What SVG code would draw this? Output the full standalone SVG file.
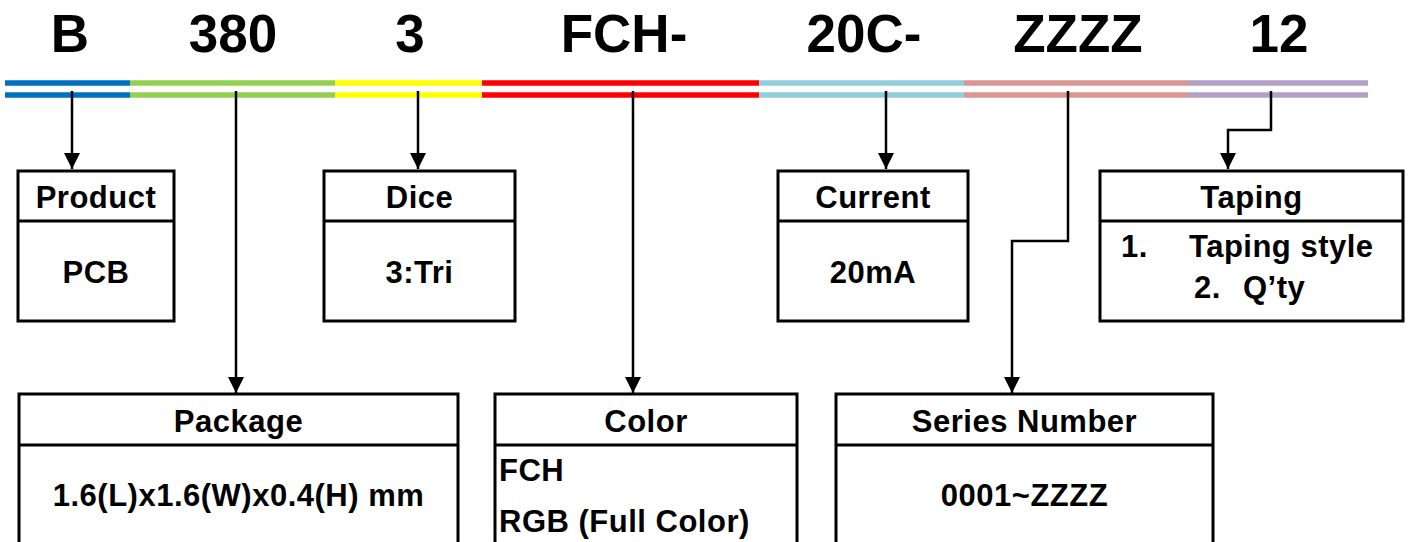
<svg xmlns="http://www.w3.org/2000/svg" width="1408" height="542" viewBox="0 0 1408 542">
<style>
.code{font-family:"Liberation Sans",Arial,sans-serif;font-weight:bold;font-size:53px;fill:#000;text-anchor:middle}
.t{font-family:"Liberation Sans",Arial,sans-serif;font-weight:bold;font-size:31px;letter-spacing:0.5px;fill:#000;text-anchor:middle}
.l{text-anchor:start}
.box{fill:#fff;stroke:#000;stroke-width:3}
.div{stroke:#000;stroke-width:3}
.bar{stroke-width:5.5;fill:none}
.c{fill:none;stroke:#000;stroke-width:2.5}
</style>
<defs>
<marker id="arr" markerWidth="16" markerHeight="16" refX="16" refY="8" orient="auto" markerUnits="userSpaceOnUse" viewBox="0 0 16 16">
<path d="M0,0 L16,8 L0,16 Z" fill="#000"/>
</marker>
</defs>
<g id="code">
<text class="code" x="70" y="52">B</text>
<text class="code" x="233" y="52">380</text>
<text class="code" x="410" y="52">3</text>
<text class="code" x="624" y="52">FCH-</text>
<text class="code" x="864" y="52">20C-</text>
<text class="code" x="1078" y="52">ZZZZ</text>
<text class="code" x="1279" y="52">12</text>
</g>
<g id="bars">
<line class="bar" x1="5" y1="83" x2="130" y2="83" stroke="#0070C0"/>
<line class="bar" x1="5" y1="95" x2="130" y2="95" stroke="#0070C0"/>
<line class="bar" x1="130" y1="83" x2="335" y2="83" stroke="#92D050"/>
<line class="bar" x1="130" y1="95" x2="335" y2="95" stroke="#92D050"/>
<line class="bar" x1="335" y1="83" x2="482" y2="83" stroke="#FFFF00"/>
<line class="bar" x1="335" y1="95" x2="482" y2="95" stroke="#FFFF00"/>
<line class="bar" x1="482" y1="83" x2="759" y2="83" stroke="#FF0000"/>
<line class="bar" x1="482" y1="95" x2="759" y2="95" stroke="#FF0000"/>
<line class="bar" x1="759" y1="83" x2="964" y2="83" stroke="#92CDDC"/>
<line class="bar" x1="759" y1="95" x2="964" y2="95" stroke="#92CDDC"/>
<line class="bar" x1="964" y1="83" x2="1188" y2="83" stroke="#DA9694"/>
<line class="bar" x1="964" y1="95" x2="1188" y2="95" stroke="#DA9694"/>
<line class="bar" x1="1188" y1="83" x2="1368" y2="83" stroke="#B1A0C7"/>
<line class="bar" x1="1188" y1="95" x2="1368" y2="95" stroke="#B1A0C7"/>
</g>
<g id="connectors">
<path class="c" d="M72,91 V169" marker-end="url(#arr)"/>
<path class="c" d="M236,91 V393" marker-end="url(#arr)"/>
<path class="c" d="M418,91 V169" marker-end="url(#arr)"/>
<path class="c" d="M633,91 V393" marker-end="url(#arr)"/>
<path class="c" d="M886,91 V169" marker-end="url(#arr)"/>
<path class="c" d="M1068,91 V241 H1012 V393" marker-end="url(#arr)"/>
<path class="c" d="M1271,91 V130 H1228 V169" marker-end="url(#arr)"/>
</g>
<g id="product">
<rect class="box" x="18" y="171" width="156" height="150"/>
<line class="div" x1="18" y1="221" x2="174" y2="221"/>
<text class="t" x="96" y="208">Product</text>
<text class="t" x="96" y="283">PCB</text>
</g>
<g id="dice">
<rect class="box" x="324" y="171" width="191" height="150"/>
<line class="div" x1="324" y1="221" x2="515" y2="221"/>
<text class="t" x="419.5" y="208">Dice</text>
<text class="t" x="419.5" y="283">3:Tri</text>
</g>
<g id="current">
<rect class="box" x="778" y="171" width="190" height="150"/>
<line class="div" x1="778" y1="221" x2="968" y2="221"/>
<text class="t" x="873" y="208">Current</text>
<text class="t" x="873" y="283">20mA</text>
</g>
<g id="taping">
<rect class="box" x="1100" y="171" width="303" height="150"/>
<line class="div" x1="1100" y1="221" x2="1403" y2="221"/>
<text class="t" x="1251.5" y="208">Taping</text>
<text class="t l" y="257"><tspan x="1121">1.</tspan><tspan x="1189">Taping style</tspan></text>
<text class="t l" y="298"><tspan x="1194">2.</tspan><tspan x="1243">Q’ty</tspan></text>
</g>
<g id="package">
<rect class="box" x="19" y="394" width="439" height="170"/>
<line class="div" x1="19" y1="445" x2="458" y2="445"/>
<text class="t" x="238.5" y="432">Package</text>
<text class="t" x="238.5" y="506">1.6(L)x1.6(W)x0.4(H) mm</text>
</g>
<g id="color">
<rect class="box" x="495" y="394" width="302" height="170"/>
<line class="div" x1="495" y1="445" x2="797" y2="445"/>
<text class="t" x="646" y="432">Color</text>
<text class="t l" x="499" y="481">FCH</text>
<text class="t l" x="499" y="532">RGB (Full Color)</text>
</g>
<g id="series">
<rect class="box" x="836" y="394" width="377" height="170"/>
<line class="div" x1="836" y1="445" x2="1213" y2="445"/>
<text class="t" x="1024.5" y="432">Series Number</text>
<text class="t" x="1024.5" y="506">0001~ZZZZ</text>
</g>
</svg>
